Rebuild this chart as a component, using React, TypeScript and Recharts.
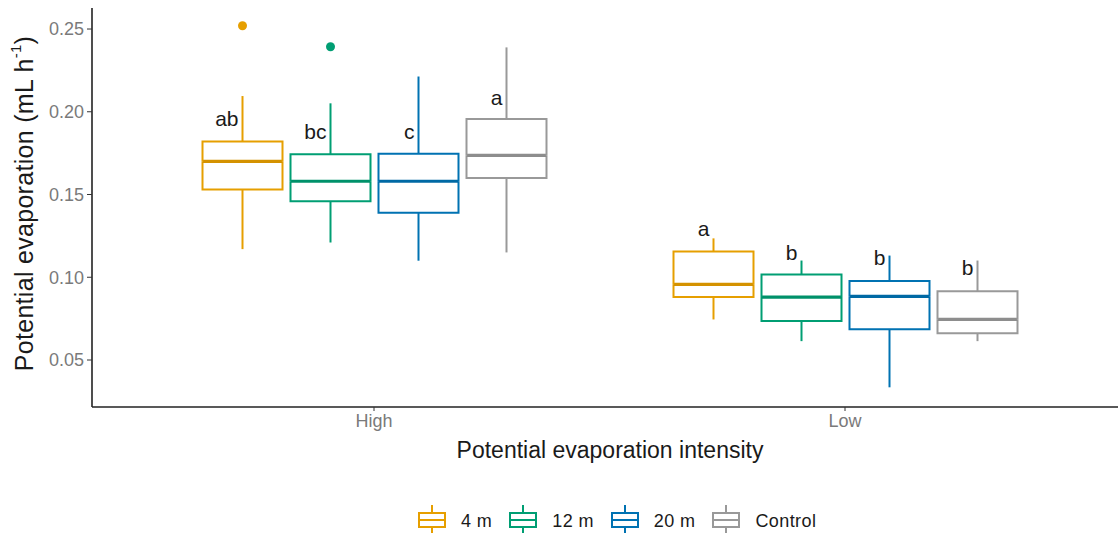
import React from "react";
import { Bar, ComposedChart, Legend, XAxis, YAxis } from "recharts";

const CATEGORIES = ["High", "Low"];
const SERIES = ["4 m", "12 m", "20 m", "Control"];
const COLORS = ["#E69F00", "#009E73", "#0072B2", "#999999"];

// [series][category]  (High, Low)
const whiskerLow = [[0.117, 0.0745], [0.121, 0.0614], [0.110, 0.0335], [0.115, 0.0614]];
const q1 = [[0.153, 0.088], [0.146, 0.0735], [0.139, 0.0686], [0.160, 0.0662]];
const median = [[0.170, 0.0957], [0.158, 0.088], [0.158, 0.0884], [0.1736, 0.0745]];
const q3 = [[0.182, 0.1156], [0.1743, 0.1017], [0.1746, 0.0978], [0.1956, 0.0916]];
const whiskerHigh = [[0.2095, 0.1235], [0.2051, 0.1101], [0.2213, 0.1131], [0.2389, 0.1101]];
const outliers = [[0.252, 0], [0.2393, 0], [0, 0], [0, 0]];
const letters = [["ab", "a"], ["bc", "b"], ["c", "b"], ["a", "b"]];
const letterAt = [[0.196, 0.1295], [0.188, 0.115], [0.188, 0.112], [0.2088, 0.106]];

const Y_TICKS = [0.05, 0.1, 0.15, 0.2, 0.25];

const rows = CATEGORIES.map((category, c) => {
  const row: Record<string, number | string> = { category };
  SERIES.forEach((_, i) => {
    row[`base${i}`] = whiskerLow[i][c];
    row[`lw${i}`] = q1[i][c] - whiskerLow[i][c];
    row[`lb${i}`] = median[i][c] - q1[i][c];
    row[`hb${i}`] = q3[i][c] - median[i][c];
    row[`hw${i}`] = whiskerHigh[i][c] - q3[i][c];
    row[`og${i}`] = outliers[i][c] ? outliers[i][c] - whiskerHigh[i][c] : 0;
  });
  return row;
});

const FONT = "'Liberation Sans', Arial, sans-serif";
const TICK_GREY = "#7a7a7a";

const Empty = () => <g />;

function whisker(color: string) {
  return (p: any) => {
    const cx = p.x + p.width / 2;
    return <line x1={cx} x2={cx} y1={p.y} y2={p.y + p.height} stroke={color} strokeWidth={2} />;
  };
}

function lowerBox(color: string) {
  return (p: any) => {
    const { x, y, width: w, height: h } = p;
    return (
      <g>
        <path d={`M${x},${y} V${y + h} H${x + w} V${y}`} fill="none" stroke={color} strokeWidth={2} />
        <line x1={x} x2={x + w} y1={y} y2={y} stroke={color} strokeWidth={3.2} style={{ filter: "brightness(0.92)" }} />
      </g>
    );
  };
}

function upperBox(color: string) {
  return (p: any) => {
    const { x, y, width: w, height: h } = p;
    return <path d={`M${x},${y + h} V${y} H${x + w} V${y + h}`} fill="none" stroke={color} strokeWidth={2} />;
  };
}

function upperWhisker(color: string, i: number) {
  return (p: any) => {
    const c = p.index;
    const cx = p.x + p.width / 2;
    const perUnit = p.height / (whiskerHigh[i][c] - q3[i][c]);
    const ty = p.y + (whiskerHigh[i][c] - letterAt[i][c]) * perUnit;
    return (
      <g>
        <line x1={cx} x2={cx} y1={p.y} y2={p.y + p.height} stroke={color} strokeWidth={2} />
        <text x={cx - 4} y={ty} textAnchor="end" dominantBaseline="central" fontSize={21} fill="#1a1a1a">
          {letters[i][c]}
        </text>
      </g>
    );
  };
}

function outlierDot(color: string) {
  return (p: any) => {
    if (!(p.height > 0)) return <g />;
    return <circle cx={p.x + p.width / 2} cy={p.y} r={4.5} fill={color} />;
  };
}

function LegendKey({ color }: { color: string }) {
  return (
    <svg width={28} height={32}>
      <line x1={14} x2={14} y1={0} y2={32} stroke={color} strokeWidth={2} />
      <rect x={1} y={8} width={26} height={14} fill="#fff" stroke={color} strokeWidth={2} />
      <line x1={1} x2={27} y1={15} y2={15} stroke={color} strokeWidth={2} />
    </svg>
  );
}

const renderLegend = () => (
  <div style={{ display: "flex", alignItems: "center", height: 32, fontSize: 18, color: "#1a1a1a" }}>
    {SERIES.map((s, i) => (
      <div key={s} style={{ display: "flex", alignItems: "center", marginRight: 17 }}>
        <LegendKey color={COLORS[i]} />
        <span style={{ marginLeft: 15, letterSpacing: 0.4 }}>{s}</span>
      </div>
    ))}
  </div>
);

export default function App() {
  return (
    <div style={{ position: "absolute", left: 0, top: 0, fontFamily: FONT, background: "#fff" }}>
      <ComposedChart
        width={1118}
        height={533}
        data={rows}
        margin={{ top: 8, right: 0, left: 0, bottom: 34 }}
        barSize={80}
        barGap={8}
      >
        <XAxis
          dataKey="category"
          padding={{ left: 46.5, right: 37.5 }}
          height={60}
          stroke="#222"
          axisLine={{ stroke: "#222", strokeWidth: 1.6 }}
          tickLine={{ stroke: "#333" }}
          tickSize={4}
          tickMargin={3}
          tick={{ fill: TICK_GREY, fontSize: 18 }}
          label={{
            content: (props: any) => {
              const vb = props.viewBox;
              return (
                <text x={vb.x + vb.width / 2 + 5} y={vb.y + 43} textAnchor="middle" dominantBaseline="central" fontSize={23} fill="#1a1a1a">
                  Potential evaporation intensity
                </text>
              );
            },
          }}
        />
        <YAxis
          width={92}
          domain={[0.0216, 0.2627]}
          allowDataOverflow
          ticks={Y_TICKS}
          tickFormatter={(v: number) => v.toFixed(2)}
          axisLine={{ stroke: "#222", strokeWidth: 1.6 }}
          tickLine={{ stroke: "#333" }}
          tickSize={5}
          tickMargin={3}
          tick={{ fill: TICK_GREY, fontSize: 18 }}
          label={{
            content: (props: any) => {
              const vb = props.viewBox;
              const cy = vb.y + vb.height / 2 - 4;
              return (
                <text x={24} y={cy} transform={`rotate(-90, 24, ${cy})`} textAnchor="middle" dominantBaseline="central" fontSize={25} letterSpacing={0.3} fill="#1a1a1a">
                  Potential evaporation (mL h<tspan dy={-9} fontSize={15}>-1</tspan>
                  <tspan dy={9}>)</tspan>
                </text>
              );
            },
          }}
        />
        {SERIES.flatMap((s, i) => [
          <Bar key={`base${i}`} dataKey={`base${i}`} stackId={s} shape={Empty} legendType="none" isAnimationActive={false} />,
          <Bar key={`lw${i}`} dataKey={`lw${i}`} stackId={s} shape={whisker(COLORS[i])} legendType="none" isAnimationActive={false} />,
          <Bar key={`lb${i}`} dataKey={`lb${i}`} stackId={s} shape={lowerBox(COLORS[i])} legendType="none" isAnimationActive={false} />,
          <Bar key={`hb${i}`} dataKey={`hb${i}`} stackId={s} shape={upperBox(COLORS[i])} legendType="none" isAnimationActive={false} />,
          <Bar key={`hw${i}`} dataKey={`hw${i}`} stackId={s} shape={upperWhisker(COLORS[i], i)} legendType="none" isAnimationActive={false} />,
          <Bar key={`og${i}`} dataKey={`og${i}`} stackId={s} shape={outlierDot(COLORS[i])} legendType="none" isAnimationActive={false} />,
        ])}
        <Legend
          verticalAlign="bottom"
          content={renderLegend}
          wrapperStyle={{ top: 505, left: 418, bottom: "auto", width: "auto", height: 32 }}
        />
      </ComposedChart>
    </div>
  );
}
